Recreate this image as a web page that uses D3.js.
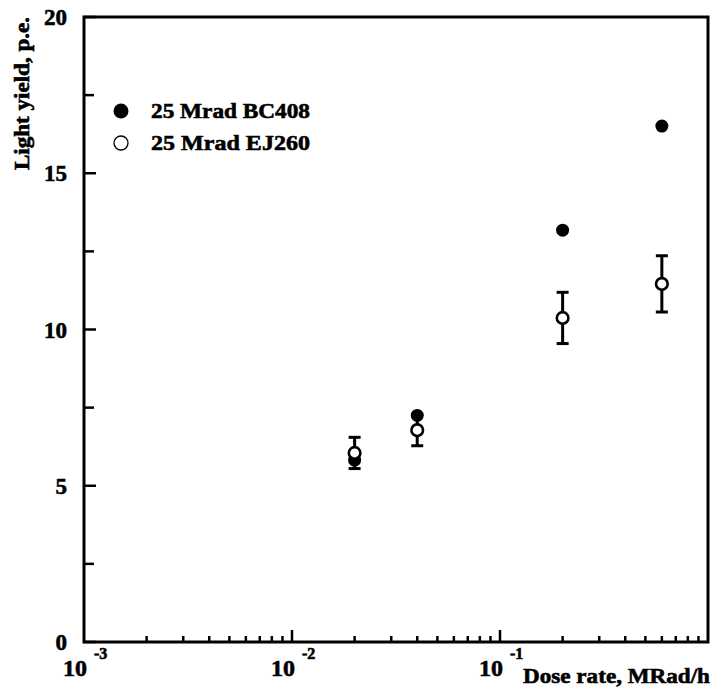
<!DOCTYPE html>
<html><head><meta charset="utf-8">
<script src="https://cdn.jsdelivr.net/npm/d3@7"></script>
<style>body{margin:0;background:#fff}svg{display:block}text{font-family:"Liberation Serif","Times New Roman",Times,serif;font-weight:bold;fill:#000;stroke:#000;stroke-width:0.6px}</style>
</head><body>
<script>
const doseRates = [0.02, 0.04, 0.2, 0.6];
const bc408 = [5.82, 7.25, 13.18, 16.51];
const ej260 = [6.05, 6.78, 10.37, 11.46];
const ej260Err = [0.5, 0.5, 0.82, 0.9];
const yTicks = [0, 5, 10, 15, 20];
const yMinorTicks = [2.5, 7.5, 12.5, 17.5];
const xDecades = [1e-3, 1e-2, 1e-1];
const xDecadeExp = ["-3", "-2", "-1"];
const legendLabels = ["25 Mrad BC408", "25 Mrad EJ260"];

const W = 713, H = 697;
const svg = d3.select("body").append("svg").attr("width", W).attr("height", H);
const x = d3.scaleLog().domain([1e-3, 1]).range([84, 708]);
const y = d3.scaleLinear().domain([0, 20]).range([642, 17]);

// ticks
const minorX = [];
xDecades.forEach(d => { for (let k = 2; k <= 9; k++) minorX.push(d * k); });
const g = svg.append("g");
g.selectAll(".xmaj").data(xDecades.slice(1)).enter().append("line")
  .attr("x1", d => x(d)).attr("x2", d => x(d)).attr("y1", y(0)).attr("y2", y(0) - 12)
  .attr("stroke", "#000").attr("stroke-width", 2.5);
g.selectAll(".xmin").data(minorX).enter().append("line")
  .attr("x1", d => x(d)).attr("x2", d => x(d)).attr("y1", y(0)).attr("y2", y(0) - 6)
  .attr("stroke", "#000").attr("stroke-width", 2.5);
g.selectAll(".ymaj").data(yTicks).enter().append("line")
  .attr("x1", x(1e-3)).attr("x2", x(1e-3) + 12).attr("y1", d => y(d)).attr("y2", d => y(d))
  .attr("stroke", "#000").attr("stroke-width", 2.5);
g.selectAll(".ymin").data(yMinorTicks).enter().append("line")
  .attr("x1", x(1e-3)).attr("x2", x(1e-3) + 10).attr("y1", d => y(d)).attr("y2", d => y(d))
  .attr("stroke", "#000").attr("stroke-width", 2.5);

// frame
svg.append("rect").attr("x", x(1e-3)).attr("y", y(20)).attr("width", x(1) - x(1e-3)).attr("height", y(0) - y(20))
  .attr("fill", "none").attr("stroke", "#000").attr("stroke-width", 3);

// y tick labels
svg.selectAll(".ylab").data(yTicks).enter().append("text")
  .attr("x", 67).attr("y", d => y(d) + 8).attr("text-anchor", "end").attr("font-size", 23).text(d => d);

// x tick labels
xDecades.forEach((d, i) => {
  svg.append("text").attr("x", x(d) + 3).attr("y", 676).attr("text-anchor", "end").attr("font-size", 24).text("10");
  svg.append("text").attr("x", x(d) + 10).attr("y", 659).attr("font-size", 16).text(xDecadeExp[i]);
});

// axis titles
svg.append("text").attr("x", 710).attr("y", 683).attr("text-anchor", "end").attr("font-size", 22)
  .attr("textLength", 187).attr("lengthAdjust", "spacingAndGlyphs").text("Dose rate, MRad/h");
svg.append("text").attr("transform", "translate(29,170) rotate(-90)").attr("font-size", 21)
  .attr("textLength", 153).attr("lengthAdjust", "spacingAndGlyphs").text("Light yield, p.e.");

// data: BC408 filled
svg.selectAll(".bc").data(doseRates).enter().append("circle")
  .attr("cx", d => x(d)).attr("cy", (d, i) => y(bc408[i])).attr("r", 6.5).attr("fill", "#000");

// EJ260 error bars
const eg = svg.append("g").attr("stroke", "#000").attr("stroke-width", 3);
doseRates.forEach((d, i) => {
  const cx = x(d), top = y(ej260[i] + ej260Err[i]), bot = y(ej260[i] - ej260Err[i]);
  eg.append("line").attr("x1", cx).attr("x2", cx).attr("y1", top).attr("y2", bot);
  eg.append("line").attr("x1", cx - 6).attr("x2", cx + 6).attr("y1", top).attr("y2", top);
  eg.append("line").attr("x1", cx - 6).attr("x2", cx + 6).attr("y1", bot).attr("y2", bot);
});
svg.selectAll(".ej").data(doseRates).enter().append("circle")
  .attr("cx", d => x(d)).attr("cy", (d, i) => y(ej260[i])).attr("r", 5.8)
  .attr("fill", "#fff").attr("stroke", "#000").attr("stroke-width", 2.6);

// legend
svg.append("circle").attr("cx", 121).attr("cy", 111).attr("r", 7.5).attr("fill", "#000");
svg.append("circle").attr("cx", 121).attr("cy", 143).attr("r", 7).attr("fill", "#fff").attr("stroke", "#000").attr("stroke-width", 1.3);
legendLabels.forEach((t, i) => {
  svg.append("text").attr("x", 151).attr("y", 118 + i * 32).attr("font-size", 22)
    .attr("textLength", 159).attr("lengthAdjust", "spacingAndGlyphs").text(t);
});
</script>
</body></html>
